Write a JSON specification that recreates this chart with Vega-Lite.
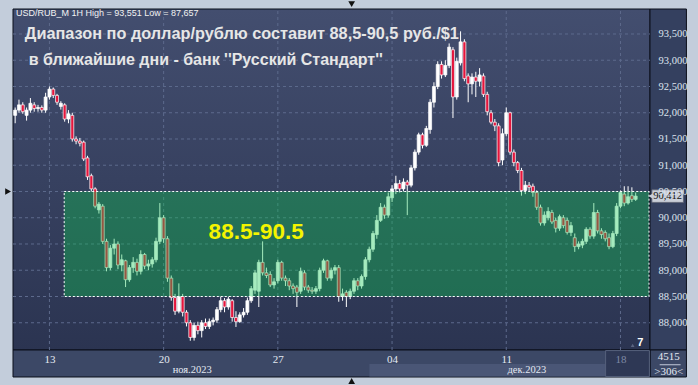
{
"$schema":"https://vega.github.io/schema/vega-lite/v6.json",
"width":647,"height":341,
"autosize":{"type":"none"},
"padding":{"left":8,"top":9,"right":43,"bottom":35},
"background":"#c3cddb",
"config":{"view":{"stroke":null},"font":"Liberation Sans"},
"resolve":{"axis":{"x":"independent","y":"independent"}},
"datasets":{
"candles":[
{"i":-9,"o":91.95,"h":92.1,"l":91.8,"c":92.05},
{"i":-8,"o":92.05,"h":92.25,"l":92.0,"c":92.15},
{"i":-7,"o":92.15,"h":92.2,"l":91.98,"c":92.02},
{"i":-6,"o":91.95,"h":92.1,"l":91.85,"c":92.05},
{"i":-5,"o":92.05,"h":92.28,"l":92.0,"c":92.18},
{"i":-4,"o":92.15,"h":92.2,"l":92.02,"c":92.08},
{"i":-3,"o":92.08,"h":92.15,"l":92.02,"c":92.1},
{"i":-2,"o":92.1,"h":92.14,"l":92.0,"c":92.05},
{"i":-1,"o":92.05,"h":92.38,"l":92.0,"c":92.3},
{"i":0,"o":92.3,"h":92.5,"l":92.25,"c":92.45},
{"i":1,"o":92.45,"h":92.48,"l":92.28,"c":92.33},
{"i":2,"o":92.33,"h":92.36,"l":92.15,"c":92.2},
{"i":3,"o":92.12,"h":92.22,"l":92.06,"c":92.18},
{"i":4,"o":92.15,"h":92.18,"l":91.83,"c":91.88},
{"i":5,"o":91.88,"h":92.05,"l":91.8,"c":91.98},
{"i":6,"o":91.95,"h":92.0,"l":91.45,"c":91.5},
{"i":7,"o":91.5,"h":91.55,"l":91.4,"c":91.46},
{"i":8,"o":91.46,"h":91.52,"l":91.36,"c":91.42},
{"i":9,"o":91.44,"h":91.47,"l":91.08,"c":91.12},
{"i":10,"o":91.14,"h":91.18,"l":90.72,"c":90.78},
{"i":11,"o":90.8,"h":90.84,"l":90.5,"c":90.55},
{"i":12,"o":90.55,"h":90.58,"l":90.18,"c":90.22},
{"i":13,"o":90.15,"h":90.3,"l":90.08,"c":90.26},
{"i":14,"o":90.22,"h":90.26,"l":89.5,"c":89.55},
{"i":15,"o":89.55,"h":89.6,"l":88.98,"c":89.05},
{"i":16,"o":89.05,"h":89.48,"l":89.0,"c":89.42},
{"i":17,"o":89.42,"h":89.6,"l":89.3,"c":89.5},
{"i":18,"o":89.5,"h":89.55,"l":89.02,"c":89.1},
{"i":19,"o":89.1,"h":89.3,"l":88.98,"c":89.2},
{"i":20,"o":89.18,"h":89.2,"l":88.68,"c":88.82},
{"i":21,"o":88.82,"h":89.1,"l":88.78,"c":89.05},
{"i":22,"o":89.05,"h":89.25,"l":88.95,"c":89.15},
{"i":23,"o":89.15,"h":89.22,"l":88.9,"c":88.98},
{"i":24,"o":88.98,"h":89.38,"l":88.92,"c":89.3},
{"i":25,"o":89.3,"h":89.33,"l":89.02,"c":89.08},
{"i":26,"o":89.08,"h":89.2,"l":89.0,"c":89.12},
{"i":27,"o":89.12,"h":89.25,"l":89.05,"c":89.2},
{"i":28,"o":89.2,"h":89.62,"l":89.15,"c":89.55},
{"i":29,"o":89.55,"h":90.28,"l":89.5,"c":90.0},
{"i":30,"o":90.0,"h":90.05,"l":89.52,"c":89.6},
{"i":31,"o":89.6,"h":89.65,"l":88.78,"c":88.85},
{"i":32,"o":88.85,"h":88.9,"l":88.42,"c":88.48},
{"i":33,"o":88.48,"h":88.55,"l":88.15,"c":88.22},
{"i":34,"o":88.22,"h":88.75,"l":88.18,"c":88.5},
{"i":35,"o":88.5,"h":88.55,"l":88.12,"c":88.2},
{"i":36,"o":88.2,"h":88.24,"l":87.93,"c":88.0},
{"i":37,"o":88.0,"h":88.05,"l":87.657,"c":87.72},
{"i":38,"o":87.72,"h":88.0,"l":87.66,"c":87.95},
{"i":39,"o":87.95,"h":88.02,"l":87.78,"c":87.85},
{"i":40,"o":87.85,"h":88.05,"l":87.72,"c":88.0},
{"i":41,"o":88.0,"h":88.08,"l":87.88,"c":87.93},
{"i":42,"o":87.93,"h":88.08,"l":87.88,"c":88.02},
{"i":43,"o":88.02,"h":88.1,"l":87.95,"c":88.05},
{"i":44,"o":88.05,"h":88.3,"l":88.0,"c":88.25},
{"i":45,"o":88.25,"h":88.5,"l":88.2,"c":88.42},
{"i":46,"o":88.42,"h":88.47,"l":88.2,"c":88.3},
{"i":47,"o":88.3,"h":88.5,"l":88.25,"c":88.45},
{"i":48,"o":88.42,"h":88.45,"l":88.02,"c":88.1},
{"i":49,"o":88.1,"h":88.22,"l":87.92,"c":88.02},
{"i":50,"o":88.02,"h":88.2,"l":88.0,"c":88.15},
{"i":51,"o":88.15,"h":88.28,"l":88.1,"c":88.2},
{"i":52,"o":88.2,"h":88.48,"l":88.15,"c":88.42},
{"i":53,"o":88.42,"h":88.7,"l":88.38,"c":88.65},
{"i":54,"o":88.62,"h":89.0,"l":88.55,"c":88.95},
{"i":55,"o":88.6,"h":89.2,"l":88.3,"c":89.15},
{"i":56,"o":89.15,"h":89.55,"l":88.9,"c":88.95},
{"i":57,"o":88.95,"h":89.05,"l":88.85,"c":88.9},
{"i":58,"o":88.92,"h":88.98,"l":88.68,"c":88.72},
{"i":59,"o":88.72,"h":88.85,"l":88.65,"c":88.78},
{"i":60,"o":88.8,"h":89.2,"l":88.75,"c":89.15},
{"i":61,"o":89.15,"h":89.18,"l":88.8,"c":88.85},
{"i":62,"o":88.85,"h":88.9,"l":88.7,"c":88.8},
{"i":63,"o":88.8,"h":88.85,"l":88.62,"c":88.7},
{"i":64,"o":88.7,"h":88.75,"l":88.55,"c":88.65},
{"i":65,"o":88.68,"h":88.72,"l":88.3,"c":88.58},
{"i":66,"o":88.6,"h":89.05,"l":88.55,"c":88.98},
{"i":67,"o":88.95,"h":89.0,"l":88.62,"c":88.68},
{"i":68,"o":88.68,"h":88.72,"l":88.57,"c":88.62},
{"i":69,"o":88.62,"h":88.68,"l":88.55,"c":88.6},
{"i":70,"o":88.6,"h":88.7,"l":88.55,"c":88.65},
{"i":71,"o":88.65,"h":89.05,"l":88.6,"c":89.0},
{"i":72,"o":89.0,"h":89.22,"l":88.95,"c":89.18},
{"i":73,"o":89.18,"h":89.2,"l":88.8,"c":88.85},
{"i":74,"o":88.85,"h":89.05,"l":88.8,"c":89.0},
{"i":75,"o":89.0,"h":89.1,"l":88.92,"c":89.05},
{"i":76,"o":89.05,"h":89.1,"l":88.4,"c":88.5},
{"i":77,"o":88.5,"h":88.65,"l":88.42,"c":88.55},
{"i":78,"o":88.58,"h":88.62,"l":88.3,"c":88.5},
{"i":79,"o":88.5,"h":88.65,"l":88.45,"c":88.6},
{"i":80,"o":88.6,"h":88.85,"l":88.55,"c":88.8},
{"i":81,"o":88.8,"h":88.85,"l":88.62,"c":88.7},
{"i":82,"o":88.7,"h":88.92,"l":88.65,"c":88.88},
{"i":83,"o":88.88,"h":89.25,"l":88.82,"c":89.2},
{"i":84,"o":89.2,"h":89.45,"l":89.15,"c":89.4},
{"i":85,"o":89.4,"h":89.75,"l":89.35,"c":89.7},
{"i":86,"o":89.68,"h":90.05,"l":89.6,"c":89.95},
{"i":87,"o":89.95,"h":90.28,"l":89.92,"c":90.2},
{"i":88,"o":90.2,"h":90.25,"l":89.98,"c":90.05},
{"i":89,"o":90.05,"h":90.48,"l":90.0,"c":90.4},
{"i":90,"o":90.38,"h":90.62,"l":90.3,"c":90.55},
{"i":91,"o":90.55,"h":90.8,"l":90.45,"c":90.65},
{"i":92,"o":90.65,"h":90.72,"l":90.48,"c":90.55},
{"i":93,"o":90.55,"h":90.75,"l":90.5,"c":90.68},
{"i":94,"o":90.68,"h":90.72,"l":90.05,"c":90.62},
{"i":95,"o":90.62,"h":91.0,"l":90.58,"c":90.95},
{"i":96,"o":90.95,"h":91.3,"l":90.9,"c":91.25},
{"i":97,"o":91.25,"h":91.62,"l":91.2,"c":91.58},
{"i":98,"o":91.58,"h":91.62,"l":91.32,"c":91.38},
{"i":99,"o":91.38,"h":91.75,"l":91.35,"c":91.7},
{"i":100,"o":91.68,"h":92.26,"l":91.6,"c":92.2},
{"i":101,"o":92.2,"h":92.58,"l":92.1,"c":92.5},
{"i":102,"o":92.5,"h":92.98,"l":92.45,"c":92.92},
{"i":103,"o":92.92,"h":92.98,"l":92.65,"c":92.72},
{"i":104,"o":92.72,"h":93.0,"l":92.68,"c":92.9},
{"i":105,"o":92.9,"h":93.32,"l":92.85,"c":93.25},
{"i":106,"o":93.2,"h":93.25,"l":91.9,"c":92.3},
{"i":107,"o":92.3,"h":93.05,"l":92.25,"c":92.98},
{"i":108,"o":92.95,"h":93.551,"l":92.9,"c":93.35},
{"i":109,"o":93.35,"h":93.4,"l":92.6,"c":92.65},
{"i":110,"o":92.7,"h":92.75,"l":92.2,"c":92.55},
{"i":111,"o":92.55,"h":92.75,"l":92.35,"c":92.68},
{"i":112,"o":92.68,"h":92.78,"l":92.3,"c":92.6},
{"i":113,"o":92.6,"h":92.85,"l":92.5,"c":92.72},
{"i":114,"o":92.7,"h":92.75,"l":92.3,"c":92.35},
{"i":115,"o":92.35,"h":92.4,"l":91.95,"c":92.02},
{"i":116,"o":92.0,"h":92.05,"l":91.78,"c":91.82},
{"i":117,"o":91.82,"h":91.88,"l":91.65,"c":91.75},
{"i":118,"o":91.75,"h":91.8,"l":90.98,"c":91.05},
{"i":119,"o":91.1,"h":91.7,"l":91.0,"c":91.6},
{"i":120,"o":91.6,"h":92.1,"l":91.55,"c":92.0},
{"i":121,"o":92.0,"h":92.02,"l":91.2,"c":91.25},
{"i":122,"o":91.25,"h":91.3,"l":90.98,"c":91.05},
{"i":123,"o":91.05,"h":91.08,"l":90.85,"c":90.9},
{"i":124,"o":90.9,"h":90.95,"l":90.42,"c":90.52},
{"i":125,"o":90.52,"h":90.7,"l":90.45,"c":90.62},
{"i":126,"o":90.62,"h":90.68,"l":90.5,"c":90.58},
{"i":127,"o":90.6,"h":90.65,"l":90.4,"c":90.48},
{"i":128,"o":90.48,"h":90.52,"l":90.15,"c":90.2},
{"i":129,"o":90.2,"h":90.25,"l":89.85,"c":89.9},
{"i":130,"o":89.9,"h":90.12,"l":89.85,"c":90.05},
{"i":131,"o":90.0,"h":90.2,"l":89.95,"c":90.12},
{"i":132,"o":90.1,"h":90.15,"l":89.88,"c":89.92},
{"i":133,"o":89.95,"h":90.0,"l":89.72,"c":89.8},
{"i":134,"o":89.8,"h":90.06,"l":89.75,"c":90.02},
{"i":135,"o":90.0,"h":90.05,"l":89.8,"c":89.85},
{"i":136,"o":89.95,"h":90.0,"l":89.68,"c":89.72},
{"i":137,"o":89.72,"h":89.92,"l":89.65,"c":89.85},
{"i":138,"o":89.62,"h":89.7,"l":89.35,"c":89.45},
{"i":139,"o":89.45,"h":89.55,"l":89.4,"c":89.5},
{"i":140,"o":89.48,"h":89.6,"l":89.42,"c":89.55},
{"i":141,"o":89.55,"h":89.82,"l":89.5,"c":89.78},
{"i":142,"o":89.78,"h":89.82,"l":89.6,"c":89.65},
{"i":143,"o":89.65,"h":90.28,"l":89.6,"c":90.1},
{"i":144,"o":90.1,"h":90.15,"l":89.7,"c":89.75},
{"i":145,"o":89.75,"h":89.8,"l":89.6,"c":89.68},
{"i":146,"o":89.72,"h":89.76,"l":89.55,"c":89.6},
{"i":147,"o":89.62,"h":89.7,"l":89.4,"c":89.45},
{"i":148,"o":89.45,"h":89.75,"l":89.42,"c":89.7},
{"i":149,"o":89.7,"h":90.28,"l":89.65,"c":90.22},
{"i":150,"o":90.22,"h":90.52,"l":90.18,"c":90.48},
{"i":151,"o":90.45,"h":90.6,"l":90.22,"c":90.28},
{"i":152,"o":90.28,"h":90.6,"l":90.25,"c":90.4},
{"i":153,"o":90.42,"h":90.58,"l":90.3,"c":90.35},
{"i":154,"o":90.35,"h":90.48,"l":90.32,"c":90.412}
],
"ygrid":[{"p":88},{"p":88.5},{"p":89},{"p":89.5},{"p":90},{"p":90.5},{"p":91},{"p":91.5},{"p":92},{"p":92.5},{"p":93},{"p":93.5}],
"xgrid":[{"i":0},{"i":30},{"i":60},{"i":90},{"i":120},{"i":150}],
"months":[{"m":"ноя.2023","i":37.5},{"m":"дек.2023","i":125.4}],
"one":[{}]
},
"layer":[
{"data":{"name":"one"},
 "mark":{"type":"rect","stroke":"#0b0f1a","strokeWidth":1,"fill":{"gradient":"linear","x1":0,"y1":0,"x2":0,"y2":1,"stops":[{"offset":0,"color":"#434e6f"},{"offset":1,"color":"#2b3451"}]}},
 "encoding":{"x":{"datum":-9.57,"type":"quantitative","scale":{"domain":[-9.57,157.76],"nice":false,"zero":false},"axis":null},"x2":{"datum":157.76},
  "y":{"datum":93.976,"type":"quantitative","scale":{"domain":[87.481,93.976],"nice":false,"zero":false},"axis":null},"y2":{"datum":87.481}}},
{"data":{"name":"one"},
 "mark":{"type":"rect","fill":"#34405f","stroke":"#0b0f1a","strokeWidth":1},
 "encoding":{"x":{"datum":157.76,"type":"quantitative","axis":null},"x2":{"datum":167.33},"y":{"datum":93.976,"type":"quantitative","axis":null},"y2":{"datum":87.481}}},
{"data":{"name":"one"},
 "mark":{"type":"rect","fill":"#3c4866","stroke":"#0b0f1a","strokeWidth":1},
 "encoding":{"x":{"datum":157.76,"type":"quantitative","axis":null},"x2":{"datum":167.33},"y":{"datum":87.481,"type":"quantitative","axis":null},"y2":{"datum":86.967}}},
{"data":{"name":"one"},
 "mark":{"type":"rect","fill":"#3c4866","stroke":"#0b0f1a","strokeWidth":1},
 "encoding":{"x":{"datum":-9.57,"type":"quantitative","axis":null},"x2":{"datum":157.76},"y":{"datum":87.481,"type":"quantitative","axis":null},"y2":{"datum":86.967}}},
{"data":{"name":"one"},
 "mark":{"type":"rect","fill":"#4a5676"},
 "encoding":{"x":{"datum":84.05,"type":"quantitative","axis":null},"x2":{"datum":146.1},"y":{"datum":87.214,"type":"quantitative","axis":null},"y2":{"datum":86.975}}},
{"data":{"name":"one"},
 "mark":{"type":"rect","fill":"#2e3855","stroke":"#56617c","strokeWidth":1},
 "encoding":{"x":{"datum":146.1,"type":"quantitative","axis":null},"x2":{"datum":157.6},"y":{"datum":87.47,"type":"quantitative","axis":null},"y2":{"datum":86.975}}},
{"data":{"name":"ygrid"},
 "mark":{"type":"rule","color":"#5d6a8c","strokeDash":[3,3],"strokeWidth":1},
 "encoding":{"y":{"field":"p","type":"quantitative","axis":null},"x":{"datum":-9.57,"type":"quantitative","axis":null},"x2":{"datum":157.76}}},
{"data":{"name":"xgrid"},
 "mark":{"type":"rule","color":"#5d6a8c","strokeDash":[3,3],"strokeWidth":1},
 "encoding":{"x":{"field":"i","type":"quantitative","axis":null},"y":{"datum":87.481,"type":"quantitative","axis":null},"y2":{"datum":93.976}}},
{"data":{"name":"candles"},
 "mark":{"type":"rule","color":"#ffffff","strokeWidth":1},
 "encoding":{
  "x":{"field":"i","type":"quantitative","axis":{"title":null,"values":[0,30,60,90,120,150],"labelExpr":"datum.value==0?'13':datum.value==30?'20':datum.value==60?'27':datum.value==90?'04':datum.value==120?'11':'18'","ticks":false,"domain":false,"grid":false,"labelFont":"Liberation Sans Narrow","labelFontSize":11,"labelColor":{"condition":{"test":"datum.value==150","value":"#7f8aa5"},"value":"#e3e8f2"},"labelPadding":3,"labelFlush":false,"labelOverlap":false,"zindex":2}},
  "y":{"field":"l","type":"quantitative","axis":{"title":null,"orient":"right","values":[88,88.5,89,89.5,90,90.5,91,91.5,92,92.5,93,93.5],"labelExpr":"replace(format(datum.value,'.3f'),'.',',')","ticks":false,"domain":false,"grid":false,"labelFont":"Liberation Sans Narrow","labelFontSize":10.5,"labelColor":"#dfe4ee","labelPadding":3,"labelAlign":"left","labelOverlap":false,"labelFlush":false,"zindex":2}},
  "y2":{"field":"h"}}},
{"data":{"name":"candles"},
 "mark":{"type":"bar","size":3,"stroke":"#ffffff","strokeWidth":0.7},
 "encoding":{
  "x":{"field":"i","type":"quantitative","axis":null},
  "y":{"field":"o","type":"quantitative","axis":null},
  "y2":{"field":"c"},
  "color":{"condition":{"test":"datum.c < datum.o","value":"#e5153c"},"value":"#ffffff"}}},
{"data":{"name":"one"},
 "mark":{"type":"rect","fill":"#0cc84f","fillOpacity":0.37,"stroke":"#ffffff","strokeDash":[2,2],"strokeWidth":1},
 "encoding":{"x":{"datum":3.88,"type":"quantitative","axis":null},"x2":{"datum":157.5},"y":{"datum":90.5,"type":"quantitative","axis":null},"y2":{"datum":88.5}}},
{"data":{"name":"one"},
 "mark":{"type":"text","align":"left","baseline":"middle","fontSize":9,"color":"#f2f2f2","font":"Liberation Sans"},
 "encoding":{"x":{"datum":-8.79,"type":"quantitative","axis":null},"y":{"datum":93.9,"type":"quantitative","axis":null},"text":{"value":"USD/RUB_M 1H High = 93,551 Low = 87,657"}}},
{"data":{"name":"one"},
 "mark":{"type":"text","align":"left","baseline":"middle","fontSize":16.3,"fontWeight":"bold","color":"#e6e6e6","font":"Liberation Sans"},
 "encoding":{"x":{"datum":-6.46,"type":"quantitative","axis":null},"y":{"datum":93.5,"type":"quantitative","axis":null},"text":{"value":"Диапазон по доллар/рублю составит 88,5-90,5 руб./$1"}}},
{"data":{"name":"one"},
 "mark":{"type":"text","align":"left","baseline":"middle","fontSize":16,"fontWeight":"bold","color":"#e6e6e6","font":"Liberation Sans"},
 "encoding":{"x":{"datum":-5.43,"type":"quantitative","axis":null},"y":{"datum":93.005,"type":"quantitative","axis":null},"text":{"value":"в ближайшие дни - банк ''Русский Стандарт''"}}},
{"data":{"name":"one"},
 "mark":{"type":"text","align":"center","baseline":"middle","fontSize":22.5,"fontWeight":"bold","color":"#f4f400","font":"Liberation Sans"},
 "encoding":{"x":{"datum":54.3,"type":"quantitative","axis":null},"y":{"datum":89.73,"type":"quantitative","axis":null},"text":{"value":"88.5-90.5"}}},
{"data":{"name":"one"},
 "mark":{"type":"rect","fill":"#c9ced8","stroke":"#5a6070","strokeWidth":0.8},
 "encoding":{"x":{"datum":158.26,"type":"quantitative","axis":null},"x2":{"datum":166.54},"y":{"datum":90.532,"type":"quantitative","axis":null},"y2":{"datum":90.292}}},
{"data":{"name":"one"},
 "mark":{"type":"point","shape":"triangle-left","filled":true,"size":35,"color":"#c9ced8","opacity":1},
 "encoding":{"x":{"datum":158.0,"type":"quantitative","axis":null},"y":{"datum":90.412,"type":"quantitative","axis":null}}},
{"data":{"name":"one"},
 "mark":{"type":"text","align":"center","baseline":"middle","fontSize":10.5,"color":"#111111","font":"Liberation Sans Narrow"},
 "encoding":{"x":{"datum":162.4,"type":"quantitative","axis":null},"y":{"datum":90.412,"type":"quantitative","axis":null},"text":{"value":"90,412"}}},
{"data":{"name":"months"},
 "mark":{"type":"text","align":"center","baseline":"middle","fontSize":10.5,"color":"#e3e8f2","font":"Liberation Sans Narrow"},
 "encoding":{"x":{"field":"i","type":"quantitative","axis":null},"y":{"datum":87.1,"type":"quantitative","axis":null},"text":{"field":"m"}}},
{"data":{"name":"one"},
 "mark":{"type":"text","align":"center","baseline":"middle","fontSize":11,"color":"#e3e8f2","font":"Liberation Sans Narrow"},
 "encoding":{"x":{"datum":162.66,"type":"quantitative","axis":null},"y":{"datum":87.348,"type":"quantitative","axis":null},"text":{"value":"4515"}}},
{"data":{"name":"one"},
 "mark":{"type":"text","align":"center","baseline":"middle","fontSize":11,"color":"#e3e8f2","font":"Liberation Sans Narrow"},
 "encoding":{"x":{"datum":162.66,"type":"quantitative","axis":null},"y":{"datum":87.062,"type":"quantitative","axis":null},"text":{"value":">306<"}}},
{"data":{"name":"one"},
 "mark":{"type":"rule","color":"#c0c8da","strokeWidth":1},
 "encoding":{"x":{"datum":160.3,"type":"quantitative","axis":null},"x2":{"datum":165.8},"y":{"datum":87.2,"type":"quantitative","axis":null}}},
{"data":{"name":"one"},
 "mark":{"type":"text","align":"center","baseline":"middle","fontSize":11,"fontWeight":"bold","color":"#ffffff","font":"Liberation Sans"},
 "encoding":{"x":{"datum":155.2,"type":"quantitative","axis":null},"y":{"datum":87.614,"type":"quantitative","axis":null},"text":{"value":"7"}}},
{"data":{"name":"one"},
 "mark":{"type":"point","shape":"triangle-up","filled":true,"size":14,"color":"#5a6480","opacity":1},
 "encoding":{"x":{"datum":153.2,"type":"quantitative","axis":null},"y":{"datum":87.57,"type":"quantitative","axis":null}}},
{"data":{"name":"one"},
 "mark":{"type":"point","shape":"triangle-right","filled":true,"size":45,"color":"#111111","opacity":1},
 "encoding":{"x":{"datum":-10.86,"type":"quantitative","axis":null},"y":{"datum":90.5,"type":"quantitative","axis":null}}},
{"data":{"name":"one"},
 "mark":{"type":"point","shape":"triangle-down","filled":true,"size":45,"color":"#111111","opacity":1},
 "encoding":{"x":{"datum":79.39,"type":"quantitative","axis":null},"y":{"datum":94.07,"type":"quantitative","axis":null}}},
{"data":{"name":"one"},
 "mark":{"type":"point","shape":"triangle-up","filled":true,"size":45,"color":"#111111","opacity":1},
 "encoding":{"x":{"datum":79.39,"type":"quantitative","axis":null},"y":{"datum":86.89,"type":"quantitative","axis":null}}}
]
}
